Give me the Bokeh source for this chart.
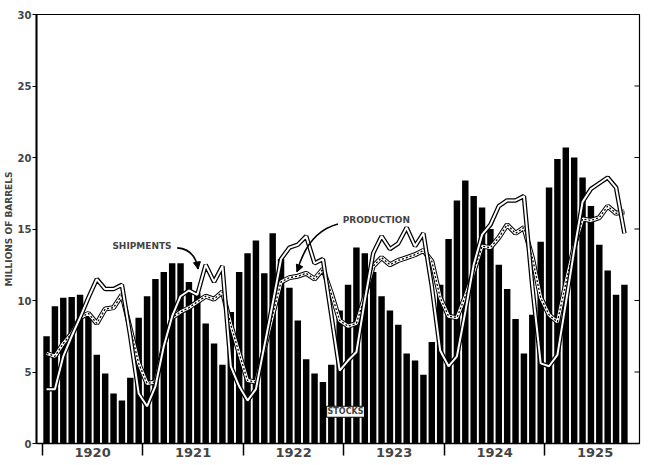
from bokeh.plotting import figure
from bokeh.models import FixedTicker, Range1d, Label, Arrow, NormalHead
from bokeh.embed import file_html
from bokeh.resources import INLINE

# ---- data (monthly, Jan 1920 .. Oct 1925), millions of barrels ----
years = ["1920", "1921", "1922", "1923", "1924", "1925"]

stocks = [7.5, 9.6, 10.2, 10.25, 10.4, 9.0, 6.2, 4.9, 3.5, 3.0, 4.6, 8.8,
          10.3, 11.5, 12.0, 12.6, 12.6, 11.3, 10.5, 8.4, 7.0, 5.5, 9.2, 12.0,
          13.3, 14.2, 11.9, 14.7, 12.9, 10.9, 8.6, 5.9, 4.9, 4.3, 5.5, 9.3,
          11.1, 13.7, 13.3, 12.0, 10.3, 9.3, 8.3, 6.3, 5.8, 4.8, 7.1, 11.1,
          14.3, 17.0, 18.4, 17.3, 16.5, 15.0, 12.5, 10.8, 8.7, 6.3, 9.0, 14.1,
          17.9, 19.9, 20.7, 20.0, 18.6, 16.6, 13.9, 12.1, 10.4, 11.1]

shipments = [3.8, 3.8, 6.1, 7.5, 8.8, 10.2, 11.5, 10.8, 10.8, 11.1, 7.5, 3.5,
             2.6, 4.0, 6.8, 8.9, 10.3, 10.7, 10.4, 12.5, 11.3, 12.4, 5.4, 4.0,
             3.0, 3.8, 6.8, 9.8, 12.9, 13.7, 13.9, 14.5, 12.6, 12.9, 9.0, 5.1,
             5.8, 6.4, 10.0, 13.3, 14.5, 13.6, 14.0, 15.1, 13.8, 14.7, 11.0, 6.5,
             5.4, 6.1, 9.2, 12.5, 14.6, 15.3, 16.6, 17.0, 17.0, 17.3, 11.0, 5.6,
             5.4, 6.2, 9.8, 13.5, 16.9, 17.8, 18.2, 18.6, 17.9, 14.7]

production = [6.3, 6.1, 7.0, 7.7, 8.8, 9.1, 8.4, 9.4, 9.5, 10.4, 8.0, 5.6,
              4.2, 4.3, 6.9, 8.8, 9.2, 9.5, 9.9, 10.3, 10.1, 10.6, 8.3, 6.3,
              4.4, 4.3, 6.6, 9.0, 11.3, 11.6, 11.7, 11.9, 11.5, 12.2, 10.5, 8.6,
              8.2, 8.4, 10.3, 12.4, 13.0, 12.5, 12.8, 13.0, 13.2, 13.5, 12.75, 10.2,
              8.9, 8.8, 10.3, 12.0, 13.8, 13.7, 14.4, 15.3, 14.7, 15.1, 13.0, 10.2,
              9.0, 8.5, 11.2, 13.8, 15.7, 15.6, 15.8, 16.6, 16.1, 16.2]

y_ticks = [0, 5, 10, 15, 20, 25, 30]

month = list(range(len(stocks)))
FONT = "DejaVu Sans"

xr = Range1d(-1.2, 70.8)
p = figure(frame_width=603, frame_height=429, output_backend="svg", toolbar_location=None,
           x_range=xr, y_range=Range1d(0, 30),
           min_border_left=30, min_border_right=2, min_border_top=14,
           min_border_bottom=0)
p.xgrid.visible = False
p.ygrid.visible = False
p.outline_line_color = "black"
p.outline_line_width = 1.2
p.background_fill_color = "white"
p.border_fill_color = "white"

# stocks bars
p.vbar(x=month, top=stocks, width=0.77, bottom=0, fill_color="black", line_color=None)

# production: checkered line
p.line(month, production, line_color="black", line_width=5)
p.line(month, production, line_color="white", line_width=3)
p.line(month, production, line_color="black", line_width=1.3, line_dash="2 2")

# shipments: double line
p.line(month, shipments, line_color="black", line_width=4.5)
p.line(month, shipments, line_color="white", line_width=2)

# x axis: year labels centred, boundary ticks as minor ticks
centers = [i * 12 + 5.5 for i in range(len(years))]
bounds = [i * 12 - 0.5 for i in range(len(years))]
xa = p.xaxis[0]
xa.ticker = FixedTicker(ticks=centers, minor_ticks=bounds)
xa.major_label_overrides = {c: y for c, y in zip(centers, years)}
xa.major_tick_out = 0
xa.major_tick_in = 0
xa.minor_tick_out = 12
xa.minor_tick_in = 0
xa.minor_tick_line_width = 1.5
xa.axis_line_width = 1.5
xa.major_label_text_font = FONT
xa.major_label_text_font_style = "bold"
xa.major_label_text_font_size = "13px"
xa.major_label_standoff = -8

# y axis
ya = p.yaxis[0]
ya.ticker = FixedTicker(ticks=y_ticks)
ya.major_tick_out = 4
ya.major_tick_in = 0
ya.minor_tick_out = 0
ya.minor_tick_in = 0
ya.axis_line_width = 2
ya.major_label_text_font = FONT
ya.major_label_text_font_style = "bold"
ya.major_label_text_font_size = "10px"
ya.major_label_standoff = 1
ya.axis_label = "MILLIONS OF BARRELS"
ya.axis_label_text_font = FONT
ya.axis_label_text_font_style = "bold"
ya.axis_label_text_font_size = "9px"
ya.axis_label_standoff = 1

# right border ticks pointing inwards
inner = y_ticks[1:-1]
p.segment(x0=[xr.end] * len(inner), y0=inner, x1=[xr.end - 0.6] * len(inner), y1=inner,
          line_color="black", line_width=1)

# annotations
p.add_layout(Label(x=7.86, y=13.8, text="SHIPMENTS", text_align="left", text_baseline="middle",
                   text_font=FONT, text_font_style="bold", text_font_size="9px"))
p.quadratic(x0=15.6, y0=13.68, x1=18.1, y1=12.2, cx=17.7, cy=13.6, line_color="black", line_width=1.6)
p.add_layout(Arrow(end=NormalHead(size=7, fill_color="black", line_color="black"),
                   x_start=17.95, y_start=12.7, x_end=18.1, y_end=12.2,
                   line_width=1.6, line_color="black"))

p.add_layout(Label(x=35.36, y=15.6, text="PRODUCTION", text_align="left", text_baseline="middle",
                   text_font=FONT, text_font_style="bold", text_font_size="9px"))
p.quadratic(x0=34.8, y0=15.35, x1=29.9, y1=12.0, cx=31.2, cy=14.8, line_color="black", line_width=1.6)
p.add_layout(Arrow(end=NormalHead(size=7, fill_color="black", line_color="black"),
                   x_start=30.25, y_start=12.5, x_end=29.9, y_end=12.0,
                   line_width=1.6, line_color="black"))

p.add_layout(Label(x=35.7, y=2.22, text="STOCKS", text_align="center", text_baseline="middle",
                   text_font=FONT, text_font_style="bold", text_font_size="8px",
                   background_fill_color="white", border_line_color="black", border_line_width=1,
                   padding=1))

open("out.html", "w").write(file_html(p, INLINE))
